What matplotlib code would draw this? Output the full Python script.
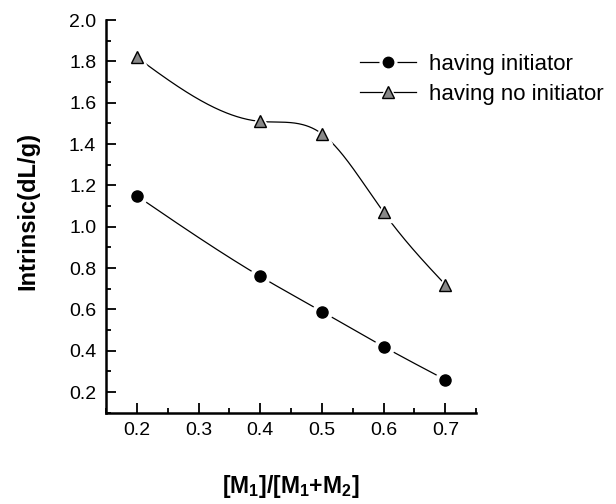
import numpy as np
import matplotlib.pyplot as plt
from matplotlib.ticker import MultipleLocator

plt.rcParams['font.family'] = ['Liberation Sans', 'DejaVu Sans']
plt.rcParams['mathtext.fontset'] = 'custom'
plt.rcParams['mathtext.rm'] = 'Liberation Sans:bold'
plt.rcParams['mathtext.it'] = 'Liberation Sans:bold'
plt.rcParams['mathtext.bf'] = 'Liberation Sans:bold'

# Daten
ratio = [0.2, 0.4, 0.5, 0.6, 0.7]
with_init = [1.15, 0.76, 0.59, 0.42, 0.26]
no_init = [1.82, 1.51, 1.45, 1.07, 0.72]
labels = ['having initiator', 'having no initiator']


def natural_spline(x, y, n=300):
    # natuerlicher kubischer Spline fuer die glatte Verbindungslinie
    x = np.asarray(x, float)
    y = np.asarray(y, float)
    k = len(x)
    h = np.diff(x)
    A = np.zeros((k, k))
    b = np.zeros(k)
    A[0, 0] = A[-1, -1] = 1
    for i in range(1, k - 1):
        A[i, i - 1] = h[i - 1]
        A[i, i] = 2 * (h[i - 1] + h[i])
        A[i, i + 1] = h[i]
        b[i] = 6 * ((y[i + 1] - y[i]) / h[i] - (y[i] - y[i - 1]) / h[i - 1])
    M = np.linalg.solve(A, b)
    xs = np.linspace(x[0], x[-1], n)
    idx = np.clip(np.searchsorted(x, xs) - 1, 0, k - 2)
    x0, x1 = x[idx], x[idx + 1]
    hh = x1 - x0
    t1 = x1 - xs
    t0 = xs - x0
    ys = (M[idx] * t1 ** 3 + M[idx + 1] * t0 ** 3) / (6 * hh) \
        + (y[idx] / hh - M[idx] * hh / 6) * t1 \
        + (y[idx + 1] / hh - M[idx + 1] * hh / 6) * t0
    return xs, ys


fig = plt.figure(figsize=(6.16, 5.04), dpi=100)
ax = fig.add_axes([0.172, 0.181, 0.601, 0.779])

handles = []
for yv, mk, fc, ms in [(with_init, 'o', 'black', 8), (no_init, '^', '#888888', 8.5)]:
    xs, ys = natural_spline(ratio, yv)
    ax.plot(xs, ys, color='black', lw=0.9, zorder=1)
    # weisser Rand -> kleine Luecke zwischen Linie und Symbol
    ax.plot(ratio, yv, ls='none', marker=mk, ms=ms + 6, color='white', zorder=2)
    ax.plot(ratio, yv, ls='none', marker=mk, ms=ms, markerfacecolor=fc,
            markeredgecolor='black', markeredgewidth=1.0, zorder=3)
    bg, = ax.plot([], [], color='black', lw=0.9, marker=mk, ms=ms + 4,
                  markerfacecolor='white', markeredgecolor='white')
    fg, = ax.plot([], [], ls='none', marker=mk, ms=ms - 0.5, markerfacecolor=fc,
                  markeredgecolor='black', markeredgewidth=1.0)
    handles.append((bg, fg))

ax.set_xlim(0.15, 0.75)
ax.set_ylim(0.1, 2.0)
ax.set_xticks([0.2, 0.3, 0.4, 0.5, 0.6, 0.7])
ax.set_yticks(np.arange(0.2, 2.01, 0.2))
ax.xaxis.set_minor_locator(MultipleLocator(0.05))
ax.yaxis.set_minor_locator(MultipleLocator(0.1))
ax.tick_params(which='both', direction='in', width=1.3, labelsize=14)
ax.tick_params(which='major', length=7, pad=7)
ax.tick_params(which='minor', length=3.5)
ax.spines['top'].set_visible(False)
ax.spines['right'].set_visible(False)
ax.spines['left'].set_linewidth(1.8)
ax.spines['bottom'].set_linewidth(1.8)

fig.text(28 / 616, 1 - 211 / 504, 'Intrinsic(dL/g)', fontsize=17,
         fontweight='bold', rotation=90, ha='center', va='center')
fig.text(291 / 616, 1 - 493 / 504, r'[M$_1$]/[M$_1$+M$_2$]', fontsize=16.5,
         fontweight='bold', ha='center', va='baseline')

fig.legend(handles, labels, loc='upper left',
           bbox_to_anchor=(360 / 616, 1 - 54 / 504),
           frameon=False, fontsize=16, handlelength=2.5, handletextpad=0.6,
           labelspacing=0.4, borderpad=0, borderaxespad=0)

fig.savefig('out.png', dpi=100)
